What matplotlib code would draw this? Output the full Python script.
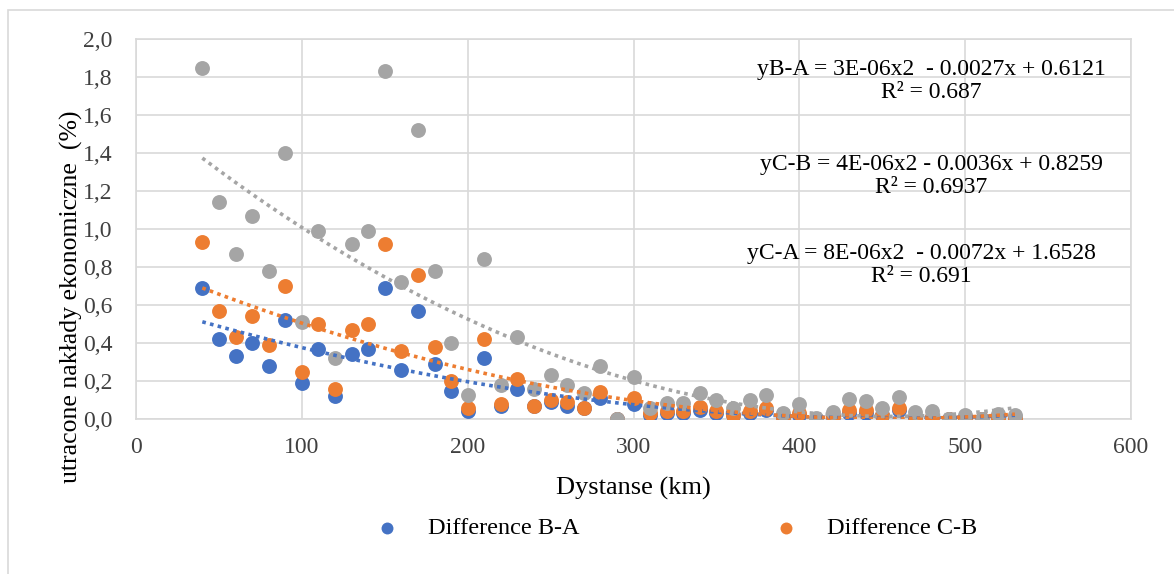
import numpy as np
import matplotlib
matplotlib.use("Agg")
from matplotlib import pyplot as plt
from matplotlib.patches import Rectangle

plt.rcParams['font.family'] = ['Liberation Serif', 'DejaVu Serif']

# distance (km)
dist = list(range(40, 540, 10))

# Difference B-A
diff_ba = [0.69, 0.42, 0.33, 0.40, 0.28, 0.52, 0.19, 0.37, 0.12, 0.34,
           0.37, 0.69, 0.26, 0.57, 0.29, 0.15, 0.04, 0.32, 0.07, 0.16,
           0.07, 0.09, 0.07, 0.06, 0.11, 0.00, 0.08, 0.02, 0.03, 0.03,
           0.05, 0.03, 0.02, 0.03, 0.05, 0.01, 0.02, 0.00, 0.01, 0.03,
           0.03, 0.02, 0.05, 0.01, 0.01, 0.00, 0.01, 0.00, 0.01, 0.01]

# Difference C-B
diff_cb = [0.93, 0.57, 0.43, 0.54, 0.39, 0.70, 0.25, 0.50, 0.16, 0.47,
           0.50, 0.92, 0.36, 0.76, 0.38, 0.20, 0.06, 0.42, 0.08, 0.21,
           0.07, 0.10, 0.09, 0.06, 0.14, 0.00, 0.11, 0.03, 0.04, 0.04,
           0.065, 0.04, 0.02, 0.04, 0.06, 0.01, 0.03, 0.00, 0.015, 0.05,
           0.045, 0.02, 0.06, 0.01, 0.01, 0.00, 0.005, 0.00, 0.005, 0.005]

# Difference C-A
diff_ca = [1.85, 1.14, 0.87, 1.07, 0.78, 1.40, 0.51, 0.99, 0.32, 0.92,
           0.99, 1.83, 0.72, 1.52, 0.78, 0.40, 0.125, 0.84, 0.18, 0.43,
           0.16, 0.23, 0.18, 0.135, 0.28, 0.00, 0.22, 0.06, 0.085, 0.085,
           0.135, 0.10, 0.06, 0.10, 0.125, 0.03, 0.08, 0.005, 0.035, 0.105,
           0.095, 0.06, 0.115, 0.035, 0.04, 0.00, 0.02, 0.00, 0.025, 0.02]

equations = ["yB-A = 3E-06x2  - 0.0027x + 0.6121\nR² = 0.687",
             "yC-B = 4E-06x2 - 0.0036x + 0.8259\nR² = 0.6937",
             "yC-A = 8E-06x2  - 0.0072x + 1.6528\nR² = 0.691"]

blue = '#4472C4'
orange = '#ED7D31'
gray = '#A5A5A5'

fig = plt.figure(figsize=(11.74, 5.74), dpi=100)
ax = fig.add_axes([136/1174, 1 - 419/574, 995/1174, 380/574])

# outer chart border
fig.patches.append(Rectangle((8/1174, -0.1), 1.2, 1 - 10/574 + 0.1,
                             transform=fig.transFigure, fill=False,
                             edgecolor='#D9D9D9', lw=1.2))

x = np.array(dist)
xs = np.linspace(x.min(), x.max(), 200)
series = [(diff_ba, blue, 'Difference B-A'),
          (diff_cb, orange, 'Difference C-B'),
          (diff_ca, gray, 'Difference C-A')]
handles = []
for vals, col, lab in series:
    h = ax.scatter(x, vals, s=115, color=col, label=lab, zorder=3, linewidths=0)
    handles.append(h)
for vals, col, lab in series:
    p = np.polyfit(x, vals, 2)
    ax.plot(xs, np.polyval(p, xs), ls=(0, (1, 1.2)), color=col, lw=2.6, zorder=4)

ax.set_xlim(0, 600)
ax.set_ylim(0, 2.0)
ax.set_xticks(range(0, 601, 100))
yt = np.arange(0, 2.01, 0.2)
ax.set_yticks(yt)
ax.set_yticklabels([f"{v:.1f}".replace('.', ',') for v in yt])
ax.grid(True, color='#D9D9D9', lw=1.2)
ax.set_axisbelow(True)
for s in ax.spines.values():
    s.set_color('#D9D9D9')
    s.set_linewidth(1.2)
ax.tick_params(length=0, labelsize=17, colors='#404040')
ax.tick_params(axis='x', pad=13)
ax.tick_params(axis='y', pad=17)

fig.text(633/1174, 1 - 488/574, "Dystanse (km)", ha='center', va='center', fontsize=19)
fig.text(71/1174, 1 - 297/574, "utracone nakłady ekonomiczne  (%)", rotation=90,
         ha='center', va='center', fontsize=18.5)

ypos = [68, 163, 252]
xcen = [931, 931, 921]
for eq, yp, xc in zip(equations, ypos, xcen):
    fig.text(xc/1174, 1 - (yp + 13)/574, eq, ha='center', va='center',
             fontsize=17, linespacing=1.15)

fig.legend(handles=handles[:2], loc='center', bbox_to_anchor=(670/1174, 1 - 528/574),
           ncol=2, frameon=False, fontsize=17.5, columnspacing=7.5, handletextpad=0.7,
           markerscale=0.8)

fig.savefig('out.png', dpi=100)
